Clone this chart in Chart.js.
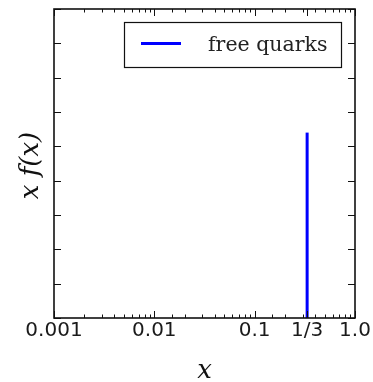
<!DOCTYPE html>
<html>
<head>
<meta charset="utf-8">
<script src="https://cdn.jsdelivr.net/npm/chart.js@4/dist/chart.umd.min.js"></script>
<style>
  html, body { margin: 0; padding: 0; background: #ffffff; }
  #wrap { width: 373px; height: 382px; position: relative; }
</style>
</head>
<body>
<div id="wrap"><canvas id="chart" width="373" height="382"></canvas></div>
<script>
// Free-quark momentum distribution: a spike at x = 1/3
const seriesLabel = 'free quarks';
const quarkX = [1 / 3, 1 / 3];
const quarkY = [0, 5.4];

// Axis ticks
const xMajorTicks = [0.001, 0.01, 0.1, 1 / 3, 1.0];
const xTickLabels = ['0.001', '0.01', '0.1', '1/3', '1.0'];
const yTickValues = [0, 1, 2, 3, 4, 5, 6, 7, 8, 9];

const xTitle = 'x';
const yTitle = 'x f(x)';

const INK = '#111111';
const LINE_BLUE = '#0000ff';

function isMajor(v) {
  return xMajorTicks.some(m => Math.abs(Math.log10(m) - Math.log10(v)) < 1e-6);
}

// Frame, inward tick marks, legend box and axis titles
const framePlugin = {
  id: 'frame',
  afterDraw(chart) {
    const ctx = chart.ctx;
    const a = chart.chartArea;
    const xs = chart.scales.x;
    const ys = chart.scales.y;
    ctx.save();
    ctx.strokeStyle = INK;

    // inward ticks on x (top and bottom)
    ctx.lineWidth = 1;
    xs.ticks.forEach(t => {
      const px = Math.round(xs.getPixelForValue(t.value)) + 0.5;
      const len = isMajor(t.value) ? 7 : 3.5;
      ctx.beginPath();
      ctx.moveTo(px, a.bottom);
      ctx.lineTo(px, a.bottom - len);
      ctx.moveTo(px, a.top);
      ctx.lineTo(px, a.top + len);
      ctx.stroke();
    });
    // inward ticks on y (left and right)
    ys.ticks.forEach(t => {
      const py = Math.round(ys.getPixelForValue(t.value)) + 0.5;
      ctx.beginPath();
      ctx.moveTo(a.left, py);
      ctx.lineTo(a.left + 7, py);
      ctx.moveTo(a.right, py);
      ctx.lineTo(a.right - 7, py);
      ctx.stroke();
    });

    // frame
    ctx.lineWidth = 1.6;
    ctx.strokeRect(a.left, a.top, a.right - a.left, a.bottom - a.top);

    // legend
    const ds = chart.data.datasets[0];
    const lx = 124.5, ly = 22.5, lw = 217, lh = 45;
    ctx.fillStyle = '#ffffff';
    ctx.fillRect(lx, ly, lw, lh);
    ctx.lineWidth = 1.2;
    ctx.strokeStyle = INK;
    ctx.strokeRect(lx, ly, lw, lh);
    ctx.strokeStyle = ds.borderColor;
    ctx.lineWidth = 3;
    ctx.beginPath();
    ctx.moveTo(141, 43.5);
    ctx.lineTo(181, 43.5);
    ctx.stroke();
    ctx.fillStyle = '#222222';
    ctx.font = '20.5px "DejaVu Serif"';
    ctx.textBaseline = 'alphabetic';
    ctx.textAlign = 'left';
    ctx.fillText(ds.label, 208, 51);

    // axis titles
    ctx.fillStyle = INK;
    ctx.font = 'italic 26px "DejaVu Serif"';
    ctx.textAlign = 'center';
    ctx.textBaseline = 'middle';
    ctx.fillText(xTitle, (a.left + a.right) / 2, 371);

    ctx.save();
    ctx.translate(31, (a.top + a.bottom) / 2 + 2);
    ctx.rotate(-Math.PI / 2);
    ctx.font = 'italic 26px "DejaVu Serif"';
    ctx.fillText(yTitle, 0, 0);
    ctx.restore();

    ctx.restore();
  }
};

new Chart(document.getElementById('chart'), {
  type: 'line',
  data: {
    datasets: [{
      label: seriesLabel,
      data: quarkX.map((x, i) => ({ x: x, y: quarkY[i] })),
      borderColor: LINE_BLUE,
      borderWidth: 3,
      pointRadius: 0,
      fill: false,
      tension: 0
    }]
  },
  options: {
    responsive: false,
    animation: false,
    devicePixelRatio: 1,
    layout: { padding: { left: 0, right: 18, top: 9, bottom: 0 } },
    plugins: {
      legend: { display: false },
      tooltip: { enabled: false }
    },
    scales: {
      x: {
        type: 'logarithmic',
        min: 0.001,
        max: 1.0,
        border: { display: false },
        grid: { display: false, drawTicks: false },
        ticks: {
          autoSkip: false,
          maxRotation: 0,
          padding: 1,
          color: '#1a1a1a',
          font: { family: '"DejaVu Sans"', size: 20 },
          callback: function (value) {
            const i = xMajorTicks.findIndex(m => Math.abs(Math.log10(m) - Math.log10(value)) < 1e-6);
            return i >= 0 ? xTickLabels[i] : '';
          }
        },
        afterBuildTicks: function (scale) {
          const extra = xMajorTicks.filter(m => !scale.ticks.some(t => Math.abs(Math.log10(t.value) - Math.log10(m)) < 1e-6));
          extra.forEach(m => scale.ticks.push({ value: m }));
          scale.ticks.sort((p, q) => p.value - q.value);
        },
        afterFit: function (scale) {
          scale.height = 64;
          scale.paddingLeft = 0;
          scale.paddingRight = 0;
        }
      },
      y: {
        type: 'linear',
        min: yTickValues[0],
        max: yTickValues[yTickValues.length - 1],
        border: { display: false },
        grid: { display: false, drawTicks: false },
        ticks: { display: false, stepSize: 1 },
        afterBuildTicks: function (scale) {
          scale.ticks = yTickValues.map(v => ({ value: v }));
        },
        afterFit: function (scale) {
          scale.width = 54;
          scale.paddingTop = 0;
          scale.paddingBottom = 0;
        }
      }
    }
  },
  plugins: [framePlugin]
});
</script>
</body>
</html>
